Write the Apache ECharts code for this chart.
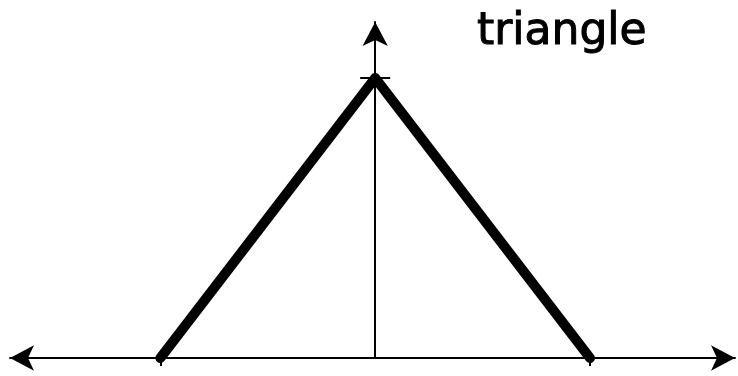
<!DOCTYPE html>
<html>
<head>
<meta charset="utf-8">
<script src="https://cdn.jsdelivr.net/npm/echarts@6/dist/echarts.min.js"></script>
<style>html,body{margin:0;padding:0;background:#fff}#c{width:738px;height:376px}</style>
</head>
<body>
<div id="c"></div>
<script>
const titleText = 'triangle';
const xValues = [-1, 0, 1];
const yValues = [0, 1, 0];
const xTicks = [-1, 1];
const yTicks = [1];

const chart = echarts.init(document.getElementById('c'));
const X_MIN = -1.7, X_MAX = 1.675;
const GRID_LEFT = 10, GRID_RIGHT = 3;
const gridW = 738 - GRID_LEFT - GRID_RIGHT;
const zeroOffset = -(gridW * (0 - X_MIN) / (X_MAX - X_MIN));
const yCommon = {
  type: 'value', min: 0, max: 1.2, position: 'left',
  axisLabel: { show: false }, splitLine: { show: false }
};
chart.setOption({
  animation: false,
  title: {
    text: titleText, left: 472, top: 6,
    textStyle: { fontFamily: 'DejaVu Sans', fontSize: 44, fontWeight: 'normal', color: '#000',
      textBorderColor: '#000', textBorderWidth: 1 }
  },
  grid: { left: GRID_LEFT, right: GRID_RIGHT, top: 22, bottom: 18, containLabel: false },
  xAxis: {
    type: 'value', min: X_MIN, max: X_MAX,
    axisLabel: { show: false }, splitLine: { show: false },
    axisLine: { show: true, onZero: true, symbol: ['arrow', 'arrow'], symbolSize: [19, 24],
      lineStyle: { color: '#000', width: 2 } },
    axisTick: { show: true, customValues: xTicks, length: 8, lineStyle: { color: '#000', width: 2 } }
  },
  yAxis: [
    Object.assign({}, yCommon, {
      axisLine: { show: true, onZero: true, symbol: ['none', 'arrow'], symbolSize: [19, 24],
        lineStyle: { color: '#000', width: 2 } },
      axisTick: { show: true, customValues: yTicks, length: 15, inside: false, lineStyle: { color: '#000', width: 2 } }
    }),
    Object.assign({}, yCommon, {
      offset: zeroOffset,
      axisLine: { show: false, onZero: false },
      axisTick: { show: true, customValues: yTicks, length: 15, inside: true, lineStyle: { color: '#000', width: 2 } }
    })
  ],
  series: [{
    type: 'line', yAxisIndex: 0,
    data: xValues.map((x, i) => [x, yValues[i]]),
    symbol: 'none',
    lineStyle: { color: '#000', width: 10, cap: 'round', join: 'round' }
  }]
});
</script>
</body>
</html>
